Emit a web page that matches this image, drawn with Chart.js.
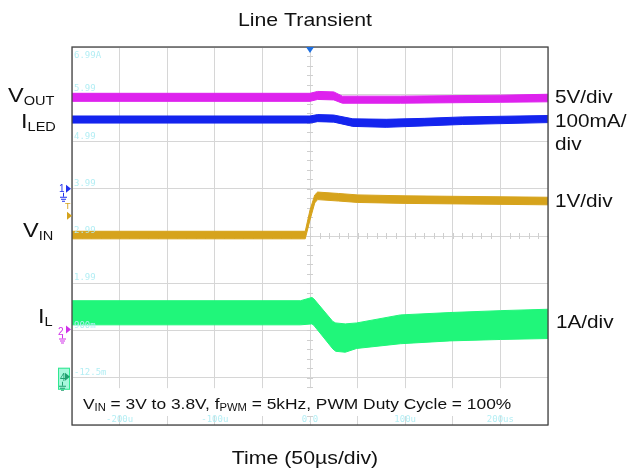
<!DOCTYPE html>
<html>
<head>
<meta charset="utf-8">
<script src="https://cdn.jsdelivr.net/npm/chart.js@4"></script>
<style>
  body { margin: 0; background: #fff; }
  #scope { display: block; }
</style>
</head>
<body>
<canvas id="scope" width="629" height="476"></canvas>
<script>
// time axis in µs, trace values in scope divisions (center line = 0)
const vOutTime = [-250, 0, 8, 25, 34, 95, 200, 250];
const vOutHigh = [3.02, 3.02, 3.06, 3.05, 2.96, 2.96, 2.98, 3.00];
const vOutLow  = [2.85, 2.85, 2.89, 2.88, 2.81, 2.81, 2.83, 2.84];

const iLedTime = [-250, 0, 8, 25, 45, 80, 120, 160, 250];
const iLedHigh = [2.54, 2.54, 2.57, 2.56, 2.48, 2.47, 2.49, 2.52, 2.55];
const iLedLow  = [2.39, 2.39, 2.42, 2.41, 2.32, 2.30, 2.33, 2.36, 2.40];

const vInTime = [-250, -5, 0, 5, 8, 30, 50, 100, 250];
const vInHigh = [0.10, 0.10, 0.55, 0.87, 0.93, 0.90, 0.87, 0.85, 0.82];
const vInLow  = [-0.06, -0.06, 0.34, 0.70, 0.77, 0.74, 0.71, 0.69, 0.66];

const iLTime = [-250, -10, 2, 4, 24, 27, 37, 49, 95, 147, 200, 250];
const iLHigh = [-1.37, -1.37, -1.30, -1.33, -1.81, -1.84, -1.86, -1.84, -1.67, -1.62, -1.58, -1.55];
const iLLow  = [-1.88, -1.88, -1.86, -1.89, -2.39, -2.44, -2.46, -2.38, -2.28, -2.22, -2.19, -2.17];

// faint scope readouts
const timeTicks = [-200, -100, 0, 100, 200];
const timeTickLabels = ['-200u', '-100u', '0.0', '100u', '200us'];
const levelTicks = [4, 3, 2, 1, 0, -1, -2, -3];
const levelTickLabels = ['6.99A', '5.99', '4.99', '3.99', '2.99', '1.99', '900m', '-12.5m'];

const FONT = '"Liberation Sans", Arial, sans-serif';
const STRETCH = 1.12;

function pts(t, v) {
  return t.map((x, i) => ({ x: x, y: v[i] }));
}

function band(label, t, hi, lo, color) {
  return [
    { label: label, data: pts(t, hi), borderColor: color, backgroundColor: color,
      borderWidth: 1, pointRadius: 0, tension: 0, fill: '+1' },
    { label: label + ' low', data: pts(t, lo), borderColor: color, backgroundColor: color,
      borderWidth: 1, pointRadius: 0, tension: 0, fill: false }
  ];
}

// draw a run of [text, size, dy] pieces, horizontally stretched like the source image
function runs(ctx, parts, x, y, color, align) {
  ctx.save();
  ctx.fillStyle = color;
  ctx.textBaseline = 'alphabetic';
  let total = 0;
  parts.forEach(p => { ctx.font = p[1] + 'px ' + FONT; total += ctx.measureText(p[0]).width * STRETCH; });
  let cx = align === 'center' ? x - total / 2 : (align === 'right' ? x - total : x);
  parts.forEach(p => {
    ctx.font = p[1] + 'px ' + FONT;
    const w = ctx.measureText(p[0]).width;
    ctx.save();
    ctx.translate(cx, y + (p[2] || 0));
    ctx.scale(STRETCH, 1);
    ctx.fillText(p[0], 0, 0);
    ctx.restore();
    cx += w * STRETCH;
  });
  ctx.restore();
}

function arrowRight(ctx, x, y, color) {
  ctx.fillStyle = color;
  ctx.beginPath();
  ctx.moveTo(x, y - 4);
  ctx.lineTo(x + 5, y);
  ctx.lineTo(x, y + 4);
  ctx.closePath();
  ctx.fill();
}

function ground(ctx, x, y, color) {
  ctx.strokeStyle = color;
  ctx.lineWidth = 1;
  ctx.beginPath();
  ctx.moveTo(x + 0.5, y); ctx.lineTo(x + 0.5, y + 4);
  ctx.moveTo(x - 3, y + 4.5); ctx.lineTo(x + 4, y + 4.5);
  ctx.moveTo(x - 2, y + 6.5); ctx.lineTo(x + 3, y + 6.5);
  ctx.moveTo(x - 1, y + 8.5); ctx.lineTo(x + 2, y + 8.5);
  ctx.stroke();
}

const scopeDecor = {
  id: 'scopeDecor',
  beforeDatasetsDraw(chart) {
    const ctx = chart.ctx, a = chart.chartArea;
    const xs = chart.scales.x, ys = chart.scales.y;
    const cx = xs.getPixelForValue(0), cy = ys.getPixelForValue(0);
    ctx.save();
    ctx.strokeStyle = '#cfcfcf';
    ctx.lineWidth = 1;
    ctx.beginPath();
    for (let t = -250; t <= 250; t += 10) {
      const px = Math.round(xs.getPixelForValue(t)) + 0.5;
      ctx.moveTo(px, cy - 3); ctx.lineTo(px, cy + 3);
    }
    for (let d = -4; d <= 4; d += 0.2) {
      const py = Math.round(ys.getPixelForValue(d)) + 0.5;
      ctx.moveTo(cx - 3, py); ctx.lineTo(cx + 3, py);
    }
    ctx.stroke();
    // annotation strip
    ctx.fillStyle = '#fff';
    const top = ys.getPixelForValue(-3.22), bot = ys.getPixelForValue(-3.81);
    ctx.fillRect(a.left + 1, top, a.right - a.left - 2, bot - top);
    ctx.restore();
  },
  afterDatasetsDraw(chart) {
    const ctx = chart.ctx, a = chart.chartArea;
    const xs = chart.scales.x, ys = chart.scales.y;
    ctx.save();
    // faint readouts
    ctx.fillStyle = '#b4eef4';
    ctx.font = '9px "DejaVu Sans Mono", monospace';
    ctx.textAlign = 'left';
    levelTicks.forEach((d, i) => {
      const py = ys.getPixelForValue(d);
      ctx.fillText(levelTickLabels[i], a.left + 2, d === 4 ? py + 11 : py - 3);
    });
    ctx.textAlign = 'center';
    timeTicks.forEach((t, i) => {
      ctx.fillText(timeTickLabels[i], xs.getPixelForValue(t), a.bottom - 3);
    });
    // frame
    ctx.strokeStyle = '#444';
    ctx.lineWidth = 1.3;
    ctx.strokeRect(a.left, a.top, a.right - a.left, a.bottom - a.top);
    // trigger marker
    const tx = xs.getPixelForValue(0);
    ctx.fillStyle = '#1e6fe0';
    ctx.beginPath();
    ctx.moveTo(tx - 4, a.top); ctx.lineTo(tx + 4, a.top); ctx.lineTo(tx, a.top + 6);
    ctx.closePath(); ctx.fill();
    // channel markers
    ctx.textAlign = 'left';
    ctx.font = '10px ' + FONT;
    const c1 = ys.getPixelForValue(1);
    ctx.fillStyle = '#2030ee';
    ctx.fillText('1', a.left - 13, c1 + 3);
    arrowRight(ctx, a.left - 6, c1, '#2030ee');
    ground(ctx, a.left - 9, c1 + 4, '#2030ee');
    ctx.fillStyle = '#d4a21c';
    ctx.font = '9px ' + FONT;
    ctx.fillText('T', a.left - 7, c1 + 20);
    arrowRight(ctx, a.left - 5, c1 + 27, '#d4a21c');
    const c2 = ys.getPixelForValue(-2);
    ctx.fillStyle = '#d030e8';
    ctx.font = '10px ' + FONT;
    ctx.fillText('2', a.left - 14, c2 + 4);
    arrowRight(ctx, a.left - 6, c2 - 1, '#d030e8');
    ground(ctx, a.left - 10, c2 + 4, '#d030e8');
    const c4 = ys.getPixelForValue(-3);
    ctx.fillStyle = '#a8f7dc';
    ctx.fillRect(a.left - 14, c4 - 10, 12, 22);
    ctx.strokeStyle = '#30e890';
    ctx.lineWidth = 1;
    ctx.strokeRect(a.left - 13.5, c4 - 9.5, 11, 21);
    ctx.fillStyle = '#20a070';
    ctx.fillText('4', a.left - 12, c4 + 3);
    arrowRight(ctx, a.left - 7, c4 - 1, '#20a070');
    ground(ctx, a.left - 10, c4 + 4, '#20a070');
    ctx.restore();
  },
  afterDraw(chart) {
    const ctx = chart.ctx;
    runs(ctx, [['Line Transient', 19]], 305, 26, '#111', 'center');
    runs(ctx, [['Time (50\u00b5s/div)', 19]], 305, 464, '#111', 'center');
    runs(ctx, [['V', 15.5], ['IN', 10, 2], [' = 3V to 3.8V, f', 15.5], ['PWM', 10, 2],
      [' = 5kHz, PWM Duty Cycle = 100%', 15.5]], 83, 409, '#111', 'left');
    runs(ctx, [['V', 21], ['OUT', 13, 3]], 8, 102, '#111', 'left');
    runs(ctx, [['I', 21], ['LED', 13, 3]], 21, 128, '#111', 'left');
    runs(ctx, [['V', 21], ['IN', 13, 3]], 23, 237, '#111', 'left');
    runs(ctx, [['I', 21], ['L', 13, 3]], 38, 323, '#111', 'left');
    runs(ctx, [['5V/div', 18.5]], 555, 103, '#111', 'left');
    runs(ctx, [['100mA/', 18.5]], 555, 127, '#111', 'left');
    runs(ctx, [['div', 18.5]], 555, 150, '#111', 'left');
    runs(ctx, [['1V/div', 18.5]], 555, 207, '#111', 'left');
    runs(ctx, [['1A/div', 18.5]], 556, 328, '#111', 'left');
  }
};

new Chart(document.getElementById('scope'), {
  type: 'line',
  data: {
    datasets: [].concat(
      band('VOUT', vOutTime, vOutHigh, vOutLow, '#de22ee'),
      band('ILED', iLedTime, iLedHigh, iLedLow, '#1424ee'),
      band('VIN', vInTime, vInHigh, vInLow, '#d6a31c'),
      band('IL', iLTime, iLHigh, iLLow, '#20f67a')
    )
  },
  options: {
    responsive: false,
    animation: false,
    devicePixelRatio: 1,
    layout: { padding: { left: 72, right: 81, top: 47, bottom: 51 } },
    plugins: { legend: { display: false }, tooltip: { enabled: false } },
    scales: {
      x: {
        type: 'linear', min: -250, max: 250,
        ticks: { display: false, stepSize: 50 },
        grid: { color: '#d6d6d6', lineWidth: 1, drawTicks: false },
        border: { display: false }
      },
      y: {
        min: -4, max: 4,
        ticks: { display: false, stepSize: 1 },
        grid: { color: '#d6d6d6', lineWidth: 1, drawTicks: false },
        border: { display: false }
      }
    }
  },
  plugins: [scopeDecor]
});
</script>
</body>
</html>
